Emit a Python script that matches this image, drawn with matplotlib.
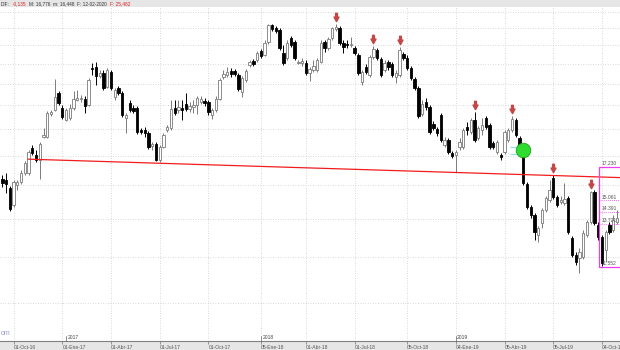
import matplotlib.pyplot as plt
import numpy as np
from matplotlib.path import Path
from matplotlib.patches import Rectangle
from matplotlib.ticker import NullFormatter, NullLocator
from matplotlib.transforms import offset_copy

plt.rcParams['font.family'] = ['Liberation Sans', 'DejaVu Sans']

# weekly candles, first bar = week of 09-Sep-2016
opens = [16.40, 16.33, 15.82, 14.78, 16.01, 16.20, 16.80, 16.80, 18.56, 18.05,
         17.69, 19.40, 19.40, 21.27, 21.61, 23.13, 21.78, 20.76, 20.93, 21.78,
         22.49, 22.58, 22.58, 22.04, 25.56, 25.66, 24.76, 25.06, 23.69, 25.16,
         22.76, 23.60, 23.13, 20.93, 22.22, 21.78, 21.78, 19.95, 19.95, 19.71,
         18.71, 18.86, 17.69, 18.63, 19.95, 20.11, 21.78, 21.61, 21.78, 22.13,
         21.69, 21.86, 22.04, 22.31, 22.40, 22.31, 21.18, 21.61, 22.58, 24.66,
         24.86, 25.26, 25.26, 24.86, 23.22, 24.36, 25.87, 26.29, 26.39, 27.36,
         26.93, 28.37, 30.35, 29.99, 29.75, 27.15, 26.61, 28.82, 28.37, 26.08,
         26.08, 26.08, 25.06, 25.36, 25.36, 26.18, 28.37, 27.70, 28.82, 29.87,
         29.99, 28.25, 28.14, 28.03, 27.70, 26.93, 24.17, 25.66, 24.86, 26.71,
         27.47, 26.50, 25.36, 26.18, 25.97, 24.66, 24.86, 27.04, 26.61, 25.56,
         24.46, 23.60, 21.27, 22.31, 21.86, 20.43, 20.03, 21.18, 18.78, 19.17,
         18.19, 18.05, 18.63, 18.63, 20.19, 19.79, 20.76, 19.32, 19.95, 20.93,
         20.35, 18.94, 18.27, 18.05, 18.27, 19.17, 19.95, 20.76, 19.32, 18.41,
         16.07, 14.66, 14.20, 13.11, 13.75, 14.48, 15.08, 16.46, 15.26, 14.96,
         14.90, 15.20, 12.95, 12.10, 11.95, 12.00, 13.11, 13.81, 15.57, 13.64,
         13.00, 12.34, 13.64, 13.37, 13.81]
highs = [16.66, 16.80, 15.94, 16.33, 16.33, 17.00, 17.62, 18.41, 18.78, 18.41,
         19.01, 20.11, 21.52, 21.61, 24.46, 23.32, 22.04, 21.78, 22.13, 23.32,
         23.41, 22.94, 22.85, 24.55, 26.08, 26.18, 25.36, 25.36, 25.56, 25.36,
         23.60, 23.79, 23.32, 21.35, 22.49, 22.04, 21.95, 20.11, 20.19, 19.87,
         19.01, 19.01, 18.78, 19.71, 20.35, 22.49, 22.49, 22.49, 22.49, 23.13,
         22.31, 22.49, 22.85, 22.85, 22.67, 22.49, 21.78, 22.85, 24.55, 25.36,
         25.66, 25.56, 25.46, 25.06, 24.76, 25.46, 26.39, 26.50, 27.36, 27.58,
         28.59, 30.47, 30.47, 30.23, 29.99, 28.03, 28.59, 29.05, 28.59, 26.39,
         26.61, 26.39, 25.66, 26.39, 26.61, 28.59, 28.59, 28.94, 30.11, 30.47,
         30.23, 28.59, 28.59, 28.94, 27.92, 27.15, 25.36, 25.97, 26.93, 27.92,
         27.70, 26.71, 26.39, 26.39, 26.18, 25.36, 27.81, 27.25, 26.93, 25.76,
         24.66, 23.79, 22.49, 22.67, 22.04, 20.68, 20.19, 21.35, 19.40, 19.32,
         18.34, 18.41, 19.32, 20.11, 20.60, 20.93, 21.44, 20.27, 20.93, 21.10,
         20.51, 19.09, 19.17, 18.19, 19.95, 20.11, 21.10, 20.93, 19.48, 18.56,
         16.20, 14.78, 14.31, 13.59, 14.60, 15.32, 16.33, 16.66, 15.38, 15.32,
         16.14, 15.32, 13.06, 12.24, 12.44, 13.37, 13.92, 15.63, 15.69, 13.81,
         13.11, 13.37, 13.81, 14.20, 14.48]
lows = [15.88, 15.50, 14.42, 14.66, 15.69, 16.07, 16.66, 16.66, 18.05, 17.55,
        16.40, 19.32, 19.32, 21.10, 21.52, 22.04, 20.84, 20.68, 20.76, 21.61,
        22.40, 22.31, 21.35, 21.95, 24.86, 23.88, 24.56, 23.41, 23.60, 23.41,
        22.49, 22.94, 21.01, 19.71, 21.44, 21.35, 19.63, 19.63, 19.40, 18.48,
        18.41, 17.62, 17.55, 18.56, 19.79, 19.95, 21.18, 21.35, 20.76, 21.52,
        21.44, 21.35, 21.27, 22.13, 21.95, 21.18, 20.84, 21.44, 22.49, 24.46,
        24.66, 24.66, 24.76, 23.32, 22.76, 24.17, 25.66, 25.76, 26.18, 26.61,
        26.82, 28.14, 29.63, 29.40, 27.47, 25.87, 26.39, 27.81, 26.39, 25.97,
        25.76, 24.86, 24.27, 25.16, 25.16, 26.08, 27.25, 27.47, 28.59, 29.63,
        28.03, 27.15, 27.70, 27.81, 26.93, 24.86, 23.88, 24.96, 24.66, 26.50,
        26.39, 24.66, 25.16, 25.36, 24.66, 24.07, 24.66, 26.39, 25.36, 24.36,
        23.41, 20.93, 21.10, 21.61, 19.63, 19.95, 19.48, 19.01, 18.63, 18.12,
        17.83, 16.86, 18.41, 18.48, 19.55, 19.63, 19.01, 19.17, 19.55, 20.03,
        18.48, 18.48, 18.12, 17.69, 18.12, 19.01, 19.79, 19.40, 18.41, 16.01,
        14.54, 14.03, 12.85, 12.75, 13.48, 14.37, 14.96, 15.14, 14.66, 14.84,
        14.78, 13.16, 12.00, 11.62, 11.26, 11.91, 13.01, 13.70, 13.64, 12.85,
        11.57, 11.76, 13.16, 13.27, 13.70]
closes = [16.14, 16.07, 14.54, 16.20, 16.20, 16.80, 17.48, 18.27, 18.19, 17.69,
          18.86, 19.55, 21.35, 21.44, 22.76, 22.22, 21.01, 21.61, 21.78, 22.58,
          22.67, 22.67, 21.95, 24.36, 25.46, 24.76, 25.06, 23.60, 25.36, 23.60,
          23.41, 23.13, 21.18, 21.18, 21.61, 21.52, 19.79, 19.79, 19.71, 18.63,
          18.86, 17.69, 18.63, 19.55, 20.19, 21.69, 21.35, 21.86, 21.61, 21.69,
          21.95, 22.04, 22.67, 22.58, 22.22, 21.44, 21.61, 22.58, 24.36, 24.96,
          25.16, 24.96, 24.96, 23.50, 24.56, 25.26, 26.18, 25.97, 27.15, 26.82,
          28.25, 30.35, 29.87, 29.63, 27.70, 26.08, 28.25, 28.03, 26.61, 26.18,
          26.29, 25.06, 25.46, 25.76, 26.39, 28.25, 27.70, 28.71, 29.99, 30.11,
          28.25, 27.81, 28.03, 28.14, 27.15, 25.06, 25.16, 25.16, 26.71, 27.58,
          26.61, 24.86, 26.08, 25.66, 24.86, 25.06, 27.47, 26.61, 25.56, 24.56,
          23.60, 21.10, 22.13, 21.86, 19.79, 20.11, 19.71, 19.17, 19.17, 18.27,
          17.98, 18.27, 19.01, 19.95, 19.95, 20.76, 19.17, 20.11, 20.35, 20.19,
          18.63, 18.63, 19.01, 17.91, 19.79, 19.95, 20.84, 19.55, 18.56, 16.14,
          14.66, 14.20, 13.27, 13.48, 14.48, 15.20, 15.69, 15.26, 14.78, 15.08,
          15.14, 13.27, 12.10, 11.76, 12.24, 13.21, 13.81, 15.57, 13.75, 13.00,
          11.72, 13.27, 13.27, 13.92, 14.03]

tick_weeks = [3, 16, 29, 42, 55, 69, 81, 94, 108, 121, 134, 147, 160]
tick_labels = ['01-Oct-16', '01-Ene-17', '01-Abr-17', '01-Jul-17', '01-Oct-17',
               '05-Ene-18', '01-Abr-18', '01-Jul-18', '05-Oct-18', '04-Ene-19',
               '05-Abr-19', '05-Jul-19', '04-Oct-19']
year_weeks = [17, 69, 121]
year_labels = ['2017', '2018', '2019']

signal_weeks = [89, 99, 106, 126, 136, 147, 157]   # red sell arrows
trend_weeks = [6.9, 164.8]
trend_prices = [17.75, 16.49]
break_week, break_price = 139, 18.4
fib_start = 159.3
fib_levels = [17.230, 15.061, 14.391, 13.721, 11.552]
price_grid = [10, 12, 14, 16, 18, 20, 22, 24, 26, 28, 30, 32]

header = [('DIF:', '#333333'), ('-0,135', '#e02424'), ('M: 16,776', '#333333'),
          ('m: 16,448', '#333333'), ('F: 12-02-2020', '#333333'), ('F: 25,482', '#e02424')]

o = np.array(opens)
h = np.array(highs)
l = np.array(lows)
c = np.array(closes)
weeks = np.arange(len(o))
up = c >= o

fig = plt.figure(figsize=(6.2, 3.5), dpi=100, facecolor='#e6e6e6')
ax = fig.add_axes([0, 9 / 350, 1, 334 / 350])
ax.set_facecolor('white')
ax.set_yscale('log')
ax.set_xlim(-0.614, 164.81)
ax.set_ylim(8.584, 32.6)

# grid
ax.set_yticks(price_grid)
ax.yaxis.set_minor_locator(NullLocator())
ax.yaxis.set_minor_formatter(NullFormatter())
ax.tick_params(axis='y', which='both', left=False, labelleft=False)
ax.grid(True, color='#cdcdcd', ls=(0, (1, 2)), lw=0.6, zorder=0)
ax.set_axisbelow(True)

# candles
edge = np.where(up, '#7a7a7a', 'black')
ax.vlines(weeks, l, h, colors=edge, lw=0.7, zorder=2)
ax.bar(weeks, np.abs(c - o), bottom=np.minimum(o, c), width=0.64,
       color=np.where(up, 'white', 'black'), edgecolor=edge, lw=0.6, zorder=3)

# trend line and breakout marker
ax.plot(trend_weeks, trend_prices, color='#f21c1c', lw=0.9, zorder=4)
ax.hlines([18.66, 18.13], break_week - 3.6, break_week - 1, colors='#8fdcf0', lw=0.8, zorder=4)
ax.plot(break_week, break_price, 'o', ms=10.5, mfc='#2fdc2f', mec='#1fa01f', mew=0.6, zorder=5)

# sell arrows above the weekly highs
arrow = Path([(-0.22, 1), (0.22, 1), (0.22, 0.1), (0.6, 0.1), (0, -1),
              (-0.6, 0.1), (-0.22, 0.1), (-0.22, 1)], closed=True)
ax.plot(signal_weeks, h[signal_weeks], ls='none', marker=arrow, ms=6,
        color='#c24848', transform=offset_copy(ax.transData, fig=fig, y=7, units='dots'),
        zorder=5)

# fibonacci box
ax.add_patch(Rectangle((fib_start, fib_levels[-1]), 20, fib_levels[0] - fib_levels[-1],
                       fill=False, ec='#ee3cee', lw=0.9, zorder=6))
ax.hlines(fib_levels[1:4], fib_start, fib_start + 20, colors='#ee3cee',
          linestyles=(0, (1, 1.5)), lw=0.6, zorder=6)
for lv in fib_levels:
    ax.text(fib_start + 0.6, lv * 1.003, f'{lv:.3f}', fontsize=3.6, color='#555555',
            va='bottom', ha='left', zorder=7)

# x axis
ax.set_xticks(tick_weeks, tick_labels)
ax.tick_params(axis='x', direction='out', length=2.5, width=0.5, color='#777777',
               pad=0.2, labelsize=3.6, labelcolor='#555555')
for lbl in ax.get_xticklabels():
    lbl.set_ha('left')
for s in ['top', 'left', 'right']:
    ax.spines[s].set_visible(False)
ax.spines['bottom'].set_color('#808080')
ax.spines['bottom'].set_linewidth(0.8)

for wk, yl in zip(year_weeks, year_labels):
    ax.plot([wk, wk], [0, 0.016], transform=ax.get_xaxis_transform(), color='#666666',
            lw=0.5, clip_on=False, zorder=6)
    ax.annotate(yl, xy=(wk, 0), xycoords=('data', 'axes fraction'), xytext=(1, 0.6),
                textcoords='offset points', fontsize=3.6, color='#444444', va='bottom')

ax.text(0.001, 0.013, 'om', transform=ax.transAxes, fontsize=5, color='#9a9ad2', va='bottom')

# header line, pieces chained one after another
prev = fig.text(1 / 620, 1 - 4 / 350, header[0][0], fontsize=3.4, color=header[0][1],
                va='center', ha='left')
for txt, col in header[1:]:
    prev = ax.annotate(txt, xy=(1, 0.5), xycoords=prev, xytext=(2, 0),
                       textcoords='offset points', fontsize=3.4, color=col,
                       va='center', ha='left', annotation_clip=False)

fig.savefig('out.png', dpi=100, facecolor=fig.get_facecolor())
